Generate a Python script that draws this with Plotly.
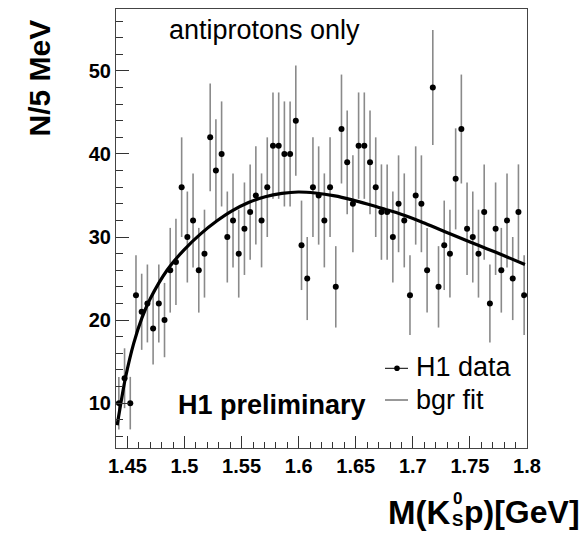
import numpy as np
import plotly.graph_objects as go

# ---- data ----
bin_centers = [round(1.4425 + 0.005 * i, 4) for i in range(72)]
counts = [10, 13, 10, 23, 21, 22, 19, 22, 20, 26, 27, 36, 30, 32, 26, 28, 42, 38,
          40, 30, 32, 28, 31, 33, 35, 32, 36, 41, 41, 40, 40, 44, 29, 25, 36, 35,
          32, 36, 24, 43, 39, 34, 41, 41, 39, 36, 33, 33, 30, 34, 32, 23, 35, 34,
          26, 48, 24, 29, 28, 37, 43, 31, 30, 28, 33, 22, 31, 26, 32, 25, 33, 23]
count_errors = list(np.sqrt(np.array(counts, dtype=float)))

fit_x = [1.441, 1.4445, 1.4482, 1.4555, 1.4628, 1.4701, 1.4847, 1.4992, 1.5139,
         1.5285, 1.5416, 1.5561, 1.5707, 1.5853, 1.5996, 1.6145, 1.6317, 1.646,
         1.6608, 1.6755, 1.6897, 1.7072, 1.721, 1.7352, 1.7501, 1.7647, 1.779, 1.7982]
fit_y = [7.35, 10.2, 13.0, 17.2, 20.3, 22.6, 26.0, 28.4, 30.35,
         31.95, 33.15, 34.15, 34.85, 35.25, 35.42, 35.3, 34.95, 34.5,
         33.95, 33.35, 32.75, 31.85, 31.05, 30.25, 29.4, 28.6, 27.8, 26.7]

# ---- geometry ----
W, H = 583, 535
ML, MR, MT, MB = 116, 56, 9, 87
PW, PH = W - ML - MR, H - MT - MB


def px(x):
    return (x - ML) / PW


def py(y):
    return 1 - (y - MT) / PH


FONT = "Liberation Sans, Arial, Helvetica, sans-serif"
AXC = "#333333"

fig = go.Figure()
fig.add_trace(go.Scatter(
    x=bin_centers, y=counts, mode="markers",
    marker=dict(color="black", size=6),
    error_y=dict(type="data", array=count_errors, color="#8a8a8a", thickness=1.6, width=0),
    showlegend=False, hoverinfo="x+y",
))
fig.add_trace(go.Scatter(
    x=fit_x, y=fit_y, mode="lines",
    line=dict(color="black", width=3.2, shape="spline", smoothing=0.8),
    showlegend=False,
))

fig.update_layout(
    width=W, height=H,
    margin=dict(l=ML, r=MR, t=MT, b=MB, pad=0),
    paper_bgcolor="white", plot_bgcolor="white",
    font=dict(family=FONT, color="black"),
    xaxis=dict(
        range=[1.44, 1.8], tick0=1.45, dtick=0.05,
        showgrid=False, zeroline=False,
        showline=True, linecolor="#444444", linewidth=1, mirror=True,
        ticks="inside", ticklen=12, tickwidth=1, tickcolor=AXC,
        tickfont=dict(family=FONT, size=20, weight="bold", color="black"),
        minor=dict(dtick=0.01, ticks="inside", ticklen=6, tickwidth=1, tickcolor=AXC, showgrid=False),
    ),
    yaxis=dict(
        range=[4.6, 57.45], tick0=0, dtick=10,
        showgrid=False, zeroline=False,
        showline=True, linecolor="#444444", linewidth=1, mirror=True,
        ticks="inside", ticklen=13, tickwidth=1, tickcolor=AXC,
        tickfont=dict(family=FONT, size=20, weight="bold", color="black"),
        ticklabelstandoff=0,
        minor=dict(dtick=2, ticks="inside", ticklen=7, tickwidth=1, tickcolor=AXC, showgrid=False),
    ),
)


def ann(text, x, y, size, bold=False, xanchor="center", angle=0):
    fig.add_annotation(
        text=text, xref="paper", yref="paper", x=px(x), y=py(y),
        xanchor=xanchor, yanchor="middle", showarrow=False, textangle=angle,
        font=dict(family=FONT, size=size, color="black", weight="bold" if bold else "normal"),
    )


ann("antiprotons only", 264.7, 30, 27)
ann("H1 preliminary", 176, 404.5, 27, bold=True, xanchor="left")
ann("H1 data", 414, 367, 27, xanchor="left")
ann("bgr fit", 414, 399.5, 27, xanchor="left")
ann("N/5 MeV", 39, 78.5, 30, bold=True, angle=-90)
ann("M(K", 452, 512, 33, bold=True, xanchor="right")
ann("0<br>S", 457, 509.5, 17, bold=True)
ann("p)[GeV]", 462, 512, 32, bold=True, xanchor="left")

# legend symbols
fig.add_shape(type="line", xref="paper", yref="paper",
              x0=px(385), x1=px(408), y0=py(368.3), y1=py(368.3),
              line=dict(color="black", width=1))
fig.add_shape(type="circle", xref="paper", yref="paper",
              x0=px(394.2), x1=px(399.8), y0=py(365.5), y1=py(371.1),
              fillcolor="black", line=dict(color="black", width=0))
fig.add_shape(type="line", xref="paper", yref="paper",
              x0=px(385), x1=px(408), y0=py(400), y1=py(400),
              line=dict(color="#333333", width=1))

fig.write_html("out.html")
